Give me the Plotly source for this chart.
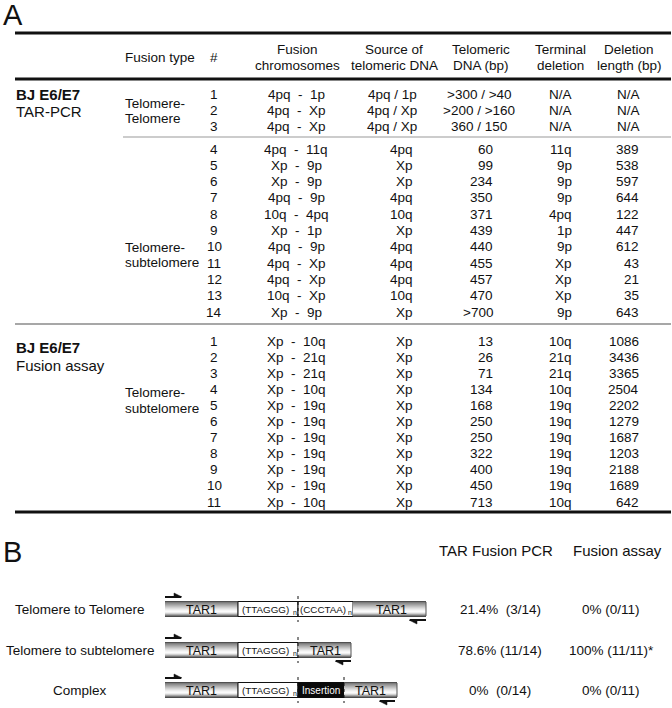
import plotly.graph_objects as go

W, H = 672, 708
FONT = "Liberation Sans, Arial, sans-serif"
INK = "#111111"
NB = "\u00a0"

# ---------------- Panel A data ----------------
header_top = ["Fusion", "Source of", "Telomeric", "Terminal", "Deletion"]
header_bot = ["chromosomes", "telomeric DNA", "DNA (bp)", "deletion", "length (bp)"]

# BJ E6/E7 TAR-PCR, telomere-telomere
tt_num = ["1", "2", "3"]
tt_fusion = [("4pq", "1p"), ("4pq", "Xp"), ("4pq", "Xp")]
tt_source = ["4pq / 1p", "4pq / Xp", "4pq / Xp"]
tt_telo = [">300 / >40", ">200 / >160", "360 / 150"]
tt_term = ["N/A", "N/A", "N/A"]
tt_del = ["N/A", "N/A", "N/A"]

# BJ E6/E7 TAR-PCR, telomere-subtelomere
ts_num = ["4", "5", "6", "7", "8", "9", "10", "11", "12", "13", "14"]
ts_fusion = [("4pq", "11q"), ("Xp", "9p"), ("Xp", "9p"), ("4pq", "9p"), ("10q", "4pq"),
             ("Xp", "1p"), ("4pq", "9p"), ("4pq", "Xp"), ("4pq", "Xp"), ("10q", "Xp"), ("Xp", "9p")]
ts_source = ["4pq", "Xp", "Xp", "4pq", "10q", "Xp", "4pq", "4pq", "4pq", "10q", "Xp"]
ts_telo = ["60", "99", "234", "350", "371", "439", "440", "455", "457", "470", ">700"]
ts_term = ["11q", "9p", "9p", "9p", "4pq", "1p", "9p", "Xp", "Xp", "Xp", "9p"]
ts_del = ["389", "538", "597", "644", "122", "447", "612", "43", "21", "35", "643"]

# BJ E6/E7 Fusion assay, telomere-subtelomere
fa_num = ["1", "2", "3", "4", "5", "6", "7", "8", "9", "10", "11"]
fa_fusion = [("Xp", "10q"), ("Xp", "21q"), ("Xp", "21q"), ("Xp", "10q"), ("Xp", "19q"), ("Xp", "19q"),
             ("Xp", "19q"), ("Xp", "19q"), ("Xp", "19q"), ("Xp", "19q"), ("Xp", "10q")]
fa_source = ["Xp", "Xp", "Xp", "Xp", "Xp", "Xp", "Xp", "Xp", "Xp", "Xp", "Xp"]
fa_telo = ["13", "26", "71", "134", "168", "250", "250", "322", "400", "450", "713"]
fa_term = ["10q", "21q", "21q", "10q", "19q", "19q", "19q", "19q", "19q", "19q", "10q"]
fa_del = ["1086", "3436", "3365", "2504", "2202", "1279", "1687", "1203", "2188", "1689", "642"]

# ---------------- Panel B data ----------------
b_headers = ["TAR Fusion PCR", "Fusion assay"]
b_categories = ["Telomere to Telomere", "Telomere to subtelomere", "Complex"]
b_pcr_pct = ["21.4%", "78.6%", "0%"]
b_pcr_frac = ["(3/14)", "(11/14)", "(0/14)"]
b_assay = ["0% (0/11)", "100% (11/11)*", "0% (0/11)"]

ann = []
shapes = []


def txt(x, y, s, size=13.5, anchor="center", color=INK):
    ann.append(dict(x=x, y=y, xref="x", yref="y", text=s, showarrow=False,
                    xanchor=anchor, yanchor="middle", borderpad=0,
                    font=dict(family=FONT, size=size, color=color)))


def hline(y, x0, x1, width, color=INK):
    shapes.append(dict(type="line", xref="x", yref="y", x0=x0, x1=x1, y0=y, y1=y,
                       line=dict(color=color, width=width)))


def rect(x0, x1, y0, y1, fill, line_color=None, lw=0):
    shapes.append(dict(type="rect", xref="x", yref="y", x0=x0, x1=x1, y0=y0, y1=y1,
                       fillcolor=fill, line=dict(color=line_color or fill, width=lw), layer="above"))


# ---------------- Panel A layout ----------------
txt(2, 15, "A", size=29, anchor="left")
hline(33, 15, 671, 3)
hline(79, 15, 671, 3)
hline(137, 123, 671, 1.2, "#9a9a9a")
hline(324, 15, 671, 1.5, "#8a8a8a")
hline(512, 15, 671, 3)

txt(124, 57, "Fusion type", anchor="left")
txt(214, 57, "#")
hdr_x = [297, 394, 481, 560, 629]
for x, a, b in zip(hdr_x, header_top, header_bot):
    txt(x, 49, a)
    txt(x, 65, b)

txt(15, 94, "<b>BJ E6/E7</b>", size=15, anchor="left")
txt(15, 111, "TAR-PCR", size=15, anchor="left")
txt(124, 103, "Telomere-", anchor="left")
txt(124, 118, "Telomere", anchor="left")
txt(124, 247, "Telomere-", anchor="left")
txt(124, 262, "subtelomere", anchor="left")
txt(15, 347, "<b>BJ E6/E7</b>", size=15, anchor="left")
txt(15, 365, "Fusion assay", size=15, anchor="left")
txt(124, 392, "Telomere-", anchor="left")
txt(124, 408, "subtelomere", anchor="left")

SEP = NB + NB + "-" + NB + NB


def block(ys, nums, fus, src, telo, term, dele, centered):
    for i, y in enumerate(ys):
        txt(214, y, nums[i])
        txt(296, y, fus[i][0] + SEP + fus[i][1])
        if centered:
            txt(392, y, src[i])
            txt(479, y, telo[i])
            txt(560, y, term[i])
            txt(628, y, dele[i])
        else:
            txt(414, y, src[i], anchor="right")
            txt(494, y, telo[i], anchor="right")
            txt(573, y, term[i], anchor="right")
            txt(640, y, dele[i], anchor="right")


block([94, 110, 126], tt_num, tt_fusion, tt_source, tt_telo, tt_term, tt_del, True)
block([149 + 16.3 * i for i in range(len(ts_num))], ts_num, ts_fusion, ts_source, ts_telo, ts_term, ts_del, False)
block([341 + 16.1 * i for i in range(len(fa_num))], fa_num, fa_fusion, fa_source, fa_telo, fa_term, fa_del, False)

# ---------------- Panel B layout ----------------
txt(2, 552, "B", size=29, anchor="left")
txt(496, 550, b_headers[0], size=15)
txt(617, 550, b_headers[1], size=15)

row_y = [609, 650, 690]
for i, y in enumerate(row_y):
    txt(80, y, b_categories[i])
    txt(500, y, b_pcr_pct[i] + NB + NB + b_pcr_frac[i] if i != 1 else b_pcr_pct[i] + NB + b_pcr_frac[i])
    txt(611, y, b_assay[i])

GRAD = ["#505050", "#7c7c7c", "#909090", "#a0a0a0", "#b0b0b0", "#c0c0c0", "#d0d0d0", "#dfdfdf",
        "#ececec", "#f6f6f6", "#fbfbfb", "#eeeeee", "#d0d0d0", "#a6a6a6", "#777777", "#4a4a4a"]
BH = 16


def tar(x0, x1, yc, label_x):
    top = yc - BH / 2
    for k, c in enumerate(GRAD):
        rect(x0, x1, top + k, top + k + 1.05, c)
    shapes.append(dict(type="line", xref="x", yref="y", x0=x1, x1=x1, y0=top + 1, y1=top + BH - 1,
                       line=dict(color="#555555", width=1), layer="above"))
    txt(label_x, yc + 0.5, "TAR1", size=12.5)


def white(x0, x1, yc, label):
    top = yc - BH / 2
    rect(x0, x1, top + 0.5, top + BH - 0.5, "white", INK, 1)
    # label with a small subscript "n"
    cx = (x0 + x1) / 2 - 2.5
    txt(cx, yc + 0.5, label, size=9.8)
    txt(x1 - 3.5, yc + 3.5, "n", size=7)


def dotted(x, yc):
    shapes.append(dict(type="line", xref="x", yref="y", x0=x, x1=x, y0=yc - BH / 2 - 5, y1=yc + BH / 2 + 5,
                       line=dict(color=INK, width=1, dash="dot"), layer="above"))


def fwd(x0, x1, y):
    shapes.append(dict(type="line", xref="x", yref="y", x0=x0, x1=x1, y0=y, y1=y,
                       line=dict(color=INK, width=2), layer="above"))
    shapes.append(dict(type="path", xref="x", yref="y",
                       path=f"M{x1 - 7},{y - 4} L{x1 + 1},{y} L{x1 - 7},{y} Z",
                       fillcolor=INK, line=dict(color=INK, width=0.5), layer="above"))


def rev(x0, x1, y):
    shapes.append(dict(type="line", xref="x", yref="y", x0=x0, x1=x1, y0=y, y1=y,
                       line=dict(color=INK, width=2), layer="above"))
    shapes.append(dict(type="path", xref="x", yref="y",
                       path=f"M{x0 + 7},{y + 4} L{x0 - 1},{y} L{x0 + 7},{y} Z",
                       fillcolor=INK, line=dict(color=INK, width=0.5), layer="above"))


TEL = "(TTAGGG)"
CCC = "(CCCTAA)"

# row 1: telomere to telomere
y = row_y[0]
tar(165, 238, y, 201)
white(238, 298, y, TEL)
white(298, 353, y, CCC)
tar(353, 426, y, 391)
dotted(298, y)
fwd(165, 181, y - 12)
rev(410, 426, y + 11)

# row 2: telomere to subtelomere
y = row_y[1]
tar(165, 238, y, 201)
white(238, 298, y, TEL)
tar(298, 351, y, 325)
dotted(298, y)
fwd(165, 181, y - 12)
rev(336, 351, y + 11)

# row 3: complex
y = row_y[2]
tar(165, 238, y, 201)
white(238, 298, y, TEL)
rect(298, 344, y - BH / 2 + 0.5, y + BH / 2 - 0.5, "#0a0a0a", "#0a0a0a", 1)
txt(321, y + 0.5, "Insertion", size=10, color="white")
tar(344, 397, y, 370)
dotted(298, y)
dotted(344, y)
fwd(165, 181, y - 12)
rev(380, 395, y + 11)

fig = go.Figure()
fig.add_trace(go.Scatter(x=[0, W], y=[0, H], mode="markers", marker=dict(opacity=0), hoverinfo="skip",
                         showlegend=False))
fig.update_layout(
    width=W, height=H,
    margin=dict(l=0, r=0, t=0, b=0),
    paper_bgcolor="white", plot_bgcolor="white",
    xaxis=dict(range=[0, W], visible=False, fixedrange=True),
    yaxis=dict(range=[H, 0], visible=False, fixedrange=True),
    annotations=ann, shapes=shapes, showlegend=False,
)
fig.write_html(
    "out.html",
    config={"displayModeBar": False},
    post_script="document.body.style.margin='0';document.body.style.overflow='hidden';",
)
